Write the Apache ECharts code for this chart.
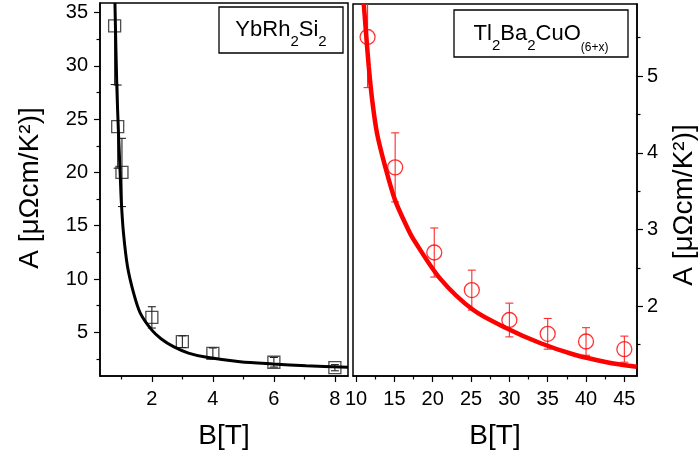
<!DOCTYPE html>
<html>
<head>
<meta charset="utf-8">
<script src="https://cdn.jsdelivr.net/npm/echarts@6/dist/echarts.min.js"></script>
<style>
  html, body { margin: 0; padding: 0; background: #fff; }
  #chart { width: 700px; height: 460px; }
</style>
</head>
<body>
<div id="chart"></div>
<script>
// YbRh2Si2 panel (left)
const ybB = [0.78, 0.88, 1.02, 2, 3, 4, 6, 8];
const ybA = [33.75, 24.3, 20.0, 6.4, 4.12, 3.03, 2.19, 1.68];
const ybErr = [5.5, 3.9, 3.2, 1.0, 0.55, 0.5, 0.45, 0.29];
const ybFitB = [0.79, 0.85, 0.91, 0.96, 1.00, 1.07, 1.20, 1.40, 1.62, 2.00, 2.30, 2.71, 3.20, 3.80, 4.89, 5.97, 7.06, 8.43];
const ybFitA = [35.9, 28.2, 23.4, 20.0, 17.2, 14.3, 11.2, 8.7, 6.8, 5.2, 4.4, 3.65, 3.05, 2.65, 2.24, 2.03, 1.86, 1.72];
const ybXTicks = [2, 4, 6, 8];
const ybXMinor = [1, 3, 5, 7];
const ybYTicks = [5, 10, 15, 20, 25, 30, 35];
const ybYMinor = [2.5, 7.5, 12.5, 17.5, 22.5, 27.5, 32.5];

// Tl2Ba2CuO(6+x) panel (right)
const tlB = [11.5, 15.1, 20.2, 25.1, 30.0, 35.0, 40.0, 45.0];
const tlA = [5.51, 3.81, 2.70, 2.21, 1.82, 1.64, 1.54, 1.44];
const tlErr = [0.66, 0.45, 0.32, 0.26, 0.22, 0.2, 0.18, 0.17];
const tlFitB = [11.0, 11.3, 11.66, 12.1, 12.74, 13.8, 15.1, 16.8, 17.5, 20.97, 25.3, 29.7, 34.0, 38.4, 42.7, 46.6];
const tlFitA = [5.95, 5.56, 5.12, 4.69, 4.25, 3.82, 3.38, 3.0, 2.87, 2.36, 1.95, 1.71, 1.52, 1.37, 1.27, 1.21];
const tlXTicks = [10, 15, 20, 25, 30, 35, 40, 45];
const tlXMinor = [12.5, 17.5, 22.5, 27.5, 32.5, 37.5, 42.5];
const tlYTicks = [2, 3, 4, 5];
const tlYMinor = [1.5, 2.5, 3.5, 4.5, 5.5];

const FONT = 'Liberation Sans, Arial, sans-serif';
const yName = 'A [μΩcm/K²)]';

function pairs(xs, ys) {
    return xs.map(function (x, i) { return [x, ys[i]]; });
}

function mainAxis(grid, pos, min, max, ticks, margin, name) {
    const ax = {
        gridIndex: grid, type: 'value', position: pos, min: min, max: max,
        axisLine: { show: true, lineStyle: { color: '#000', width: 1.5 } },
        axisTick: { show: true, customValues: ticks, length: 6, lineStyle: { color: '#000', width: 1.2 } },
        axisLabel: { customValues: ticks, margin: margin, fontSize: 20, color: '#000', fontFamily: FONT },
        splitLine: { show: false }
    };
    if (name) {
        ax.name = name;
        ax.nameLocation = 'middle';
        ax.nameGap = 46;
        ax.nameTextStyle = { fontSize: 28, color: '#000', fontFamily: FONT };
    }
    return ax;
}

function minorAxis(grid, pos, min, max, ticks) {
    return {
        gridIndex: grid, type: 'value', position: pos, min: min, max: max,
        axisLine: { show: false },
        axisTick: { show: true, customValues: ticks, length: 3.5, lineStyle: { color: '#000', width: 1.2 } },
        axisLabel: { show: false },
        splitLine: { show: false }
    };
}

function errSeries(xi, yi, xs, ys, es, color) {
    return {
        type: 'custom',
        xAxisIndex: xi,
        yAxisIndex: yi,
        clip: true,
        silent: true,
        data: xs.map(function (x, i) { return [x, ys[i], es[i]]; }),
        renderItem: function (params, api) {
            const hi = api.coord([api.value(0), api.value(1) + api.value(2)]);
            const lo = api.coord([api.value(0), api.value(1) - api.value(2)]);
            const w = 4;
            const st = { stroke: color, lineWidth: 1.1 };
            return {
                type: 'group',
                children: [
                    { type: 'line', shape: { x1: hi[0], y1: hi[1], x2: lo[0], y2: lo[1] }, style: st },
                    { type: 'line', shape: { x1: hi[0] - w, y1: hi[1], x2: hi[0] + w, y2: hi[1] }, style: st },
                    { type: 'line', shape: { x1: lo[0] - w, y1: lo[1], x2: lo[0] + w, y2: lo[1] }, style: st }
                ]
            };
        }
    };
}

const chart = echarts.init(document.getElementById('chart'));

const option = {
    backgroundColor: '#fff',
    animation: false,
    grid: [
        { left: 100, top: 3, width: 248, height: 373, show: true, borderColor: '#000', borderWidth: 1.5 },
        { left: 353, top: 4, width: 284, height: 372, show: true, borderColor: '#000', borderWidth: 1.5 }
    ],
    xAxis: [
        mainAxis(0, 'bottom', 0.3, 8.43, ybXTicks, 13, 'B[T]'),
        minorAxis(0, 'bottom', 0.3, 8.43, ybXMinor),
        mainAxis(1, 'bottom', 9.6, 46.65, tlXTicks, 13, 'B[T]'),
        minorAxis(1, 'bottom', 9.6, 46.65, tlXMinor)
    ],
    yAxis: [
        mainAxis(0, 'left', 0.9, 35.9, ybYTicks, 12),
        minorAxis(0, 'left', 0.9, 35.9, ybYMinor),
        mainAxis(1, 'right', 1.09, 5.94, tlYTicks, 10),
        minorAxis(1, 'right', 1.09, 5.94, tlYMinor)
    ],
    graphic: [
        {
            type: 'text', x: 30, y: 188, rotation: Math.PI / 2,
            style: { text: yName, fontSize: 28, fontFamily: FONT, fill: '#000', align: 'center', verticalAlign: 'middle' }
        },
        {
            type: 'text', x: 684, y: 205, rotation: Math.PI / 2,
            style: { text: yName, fontSize: 28, fontFamily: FONT, fill: '#000', align: 'center', verticalAlign: 'middle' }
        },
        {
            type: 'rect', shape: { x: 219, y: 7, width: 124, height: 46 },
            style: { fill: '#fff', stroke: '#000', lineWidth: 1.3 }, z: 10
        },
        {
            type: 'text', x: 281, y: 30, z: 11,
            style: {
                text: '{m|YbRh}{s|2}{m|Si}{s|2}',
                align: 'center', verticalAlign: 'middle',
                rich: {
                    m: { fontSize: 22, fontFamily: FONT, fill: '#000', lineHeight: 38 },
                    s: { fontSize: 15, fontFamily: FONT, fill: '#000', lineHeight: 15, verticalAlign: 'bottom' }
                }
            }
        },
        {
            type: 'rect', shape: { x: 454, y: 10, width: 174, height: 47 },
            style: { fill: '#fff', stroke: '#000', lineWidth: 1.3 }, z: 10
        },
        {
            type: 'text', x: 541, y: 34, z: 11,
            style: {
                text: '{m|Tl}{s|2}{m|Ba}{s|2}{m|CuO}{t|(6+x)}',
                align: 'center', verticalAlign: 'middle',
                rich: {
                    m: { fontSize: 22, fontFamily: FONT, fill: '#000', lineHeight: 39 },
                    s: { fontSize: 15, fontFamily: FONT, fill: '#000', lineHeight: 15, verticalAlign: 'bottom' },
                    t: { fontSize: 12, fontFamily: FONT, fill: '#000', lineHeight: 13, verticalAlign: 'bottom' }
                }
            }
        }
    ],
    series: [
        errSeries(0, 0, ybB, ybA, ybErr, '#222'),
        {
            type: 'scatter', xAxisIndex: 0, yAxisIndex: 0,
            symbol: 'rect', symbolSize: 12,
            itemStyle: { color: 'rgba(0,0,0,0)', borderColor: '#222', borderWidth: 1.3 },
            data: pairs(ybB, ybA)
        },
        {
            type: 'line', xAxisIndex: 0, yAxisIndex: 0,
            smooth: 0.3, symbol: 'none',
            lineStyle: { color: '#000', width: 3 },
            data: pairs(ybFitB, ybFitA)
        },
        errSeries(2, 2, tlB, tlA, tlErr, '#ff2a2a'),
        {
            type: 'scatter', xAxisIndex: 2, yAxisIndex: 2,
            symbol: 'circle', symbolSize: 15,
            itemStyle: { color: 'rgba(0,0,0,0)', borderColor: '#ff0000', borderWidth: 1.3 },
            data: pairs(tlB, tlA)
        },
        {
            type: 'line', xAxisIndex: 2, yAxisIndex: 2,
            smooth: 0.3, symbol: 'none',
            lineStyle: { color: '#ff0000', width: 4.5 },
            data: pairs(tlFitB, tlFitA)
        }
    ]
};

chart.setOption(option);
</script>
</body>
</html>
